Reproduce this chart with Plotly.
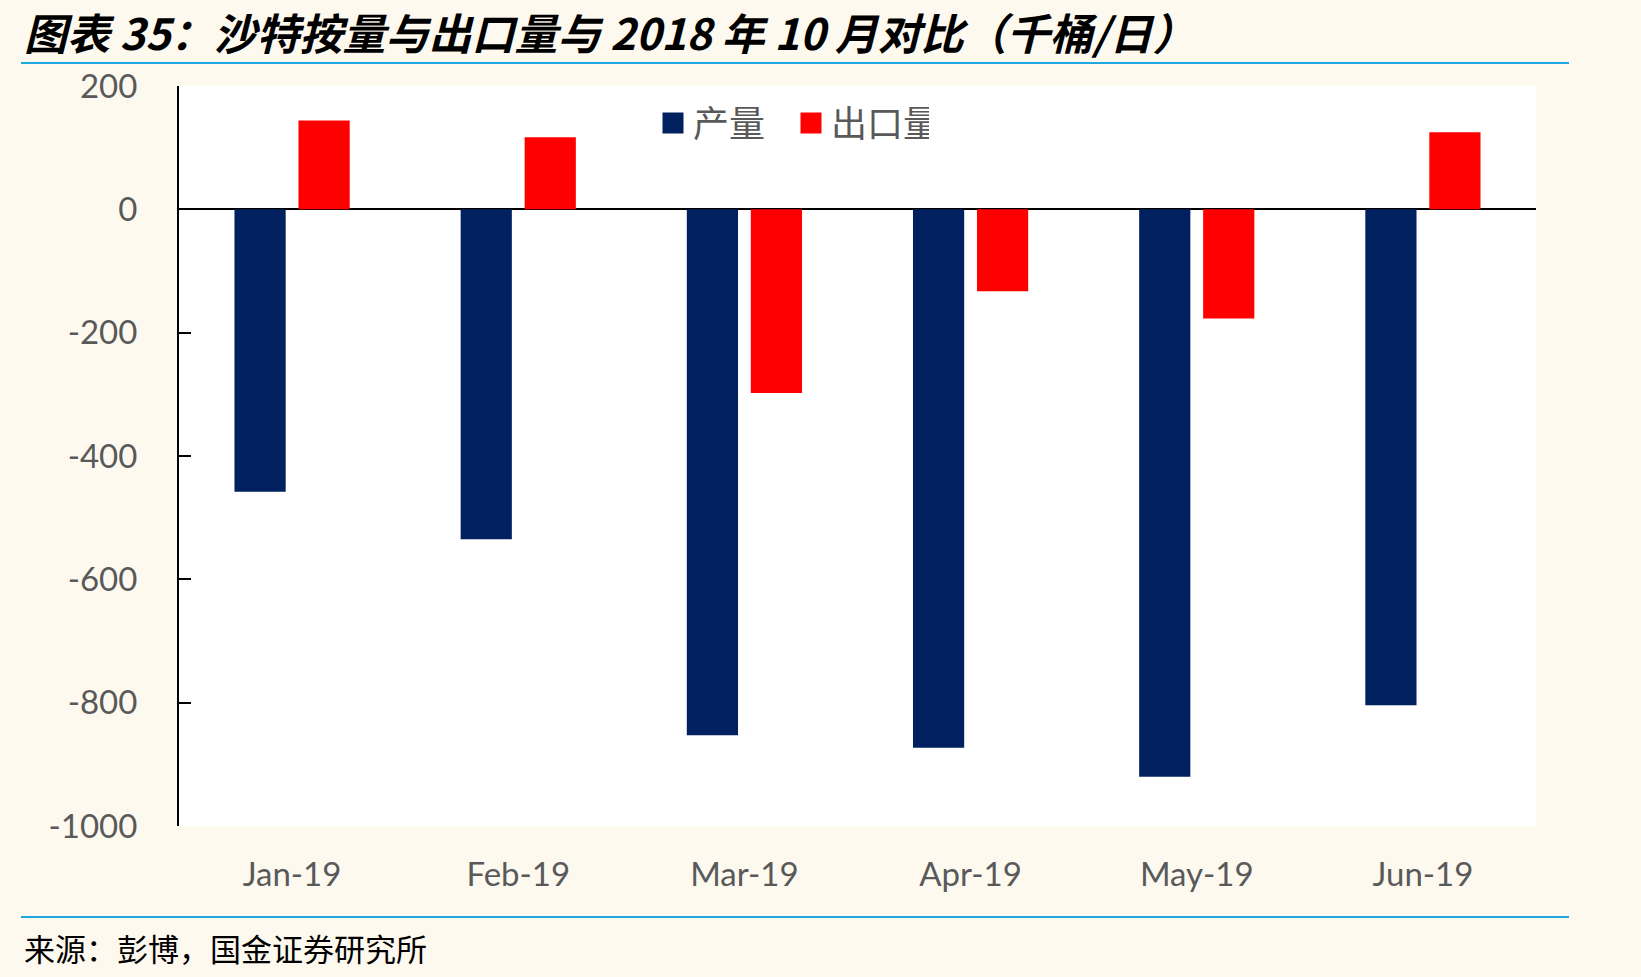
import plotly.graph_objects as go

categories = ["Jan-19", "Feb-19", "Mar-19", "Apr-19", "May-19", "Jun-19"]
production = [-458, -535, -853, -873, -920, -804]
exports = [144, 117, -298, -133, -177, 125]
series_names = ["产量", "出口量"]
series_colors = ["#002060", "#FF0000"]
y_tickvals = [200, 0, -200, -400, -600, -800, -1000]
y_ticktext = ["200", "0", "-200", "-400", "-600", "-800", "-1000"]

title_text = "图表 35：沙特按量与出口量与 2018 年 10 月对比（千桶/日）"
source_text = "来源：彭博，国金证券研究所"

W, H = 1641, 977
L, R, T, B = 179, 105, 86, 151
pw, ph = W - L - R, H - T - B

def px_x(x):
    return (x - L) / pw

def px_y(y):
    return (H - B - y) / ph

fig = go.Figure()
for name, vals, col in zip(series_names, [production, exports], series_colors):
    fig.add_trace(go.Bar(x=categories, y=vals, name=name, showlegend=False,
                         marker=dict(color=col, line=dict(width=0))))
# legend-only entries with larger square swatches
for name, col in zip(series_names, series_colors):
    fig.add_trace(go.Scatter(x=[None], y=[None], mode="markers", name=name,
                             marker=dict(symbol="square", size=16, color=col,
                                         line=dict(width=5, color=col))))

tick_font = dict(family="Lato, Open Sans, sans-serif", size=33, color="#595959")

fig.update_layout(
    width=W, height=H,
    autosize=False,
    margin=dict(l=L, r=R, t=T, b=B),
    paper_bgcolor="#FEF9EF",
    plot_bgcolor="#FFFFFF",
    barmode="group",
    bargap=0.434,
    bargroupgap=0.2,
    showlegend=True,
    legend=dict(orientation="h", x=px_x(653), y=px_y(123), xanchor="left", yanchor="middle",
                font=dict(family="Noto Sans CJK SC", size=36, color="#595959"),
                bgcolor="rgba(0,0,0,0)", itemwidth=30, tracegroupgap=0,
                entrywidth=93, entrywidthmode="pixels"),
    title=dict(text="<b><i>" + title_text + "</i></b>", x=24 / W, xanchor="left",
               y=1 - 35 / H, yanchor="middle", xref="container", yref="container",
               font=dict(family="Noto Sans CJK SC", size=43, color="#000000")),
    xaxis=dict(showline=False, showgrid=False, ticks="", tickfont=tick_font,
               ticklabelstandoff=26, zeroline=False),
    yaxis=dict(range=[-1000, 200], tickvals=y_tickvals, ticktext=y_ticktext,
               showgrid=False, showline=True, linecolor="#000000", linewidth=2,
               ticks="inside", ticklen=12, tickwidth=2, tickcolor="#000000",
               tickfont=tick_font, ticklabelstandoff=33,
               zeroline=True, zerolinecolor="#000000", zerolinewidth=2),
)

# Blue separator lines
fig.add_shape(type="line", xref="paper", yref="paper",
              x0=px_x(21), x1=px_x(1569), y0=px_y(63), y1=px_y(63),
              line=dict(color="#1FA7E1", width=2))
fig.add_shape(type="line", xref="paper", yref="paper",
              x0=px_x(21), x1=px_x(1569), y0=px_y(917), y1=px_y(917),
              line=dict(color="#1FA7E1", width=2))

fig.add_annotation(text=source_text, xref="paper", yref="paper",
                   x=px_x(22), y=px_y(947), xanchor="left", yanchor="middle",
                   showarrow=False,
                   font=dict(family="Noto Sans CJK SC", size=31, color="#000000"))

fig.write_html("out.html")
